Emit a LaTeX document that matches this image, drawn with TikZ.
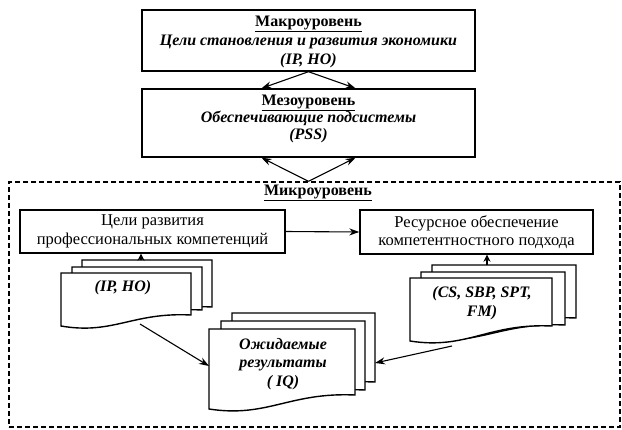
\documentclass[tikz,border=0pt]{standalone}
\usepackage{fontspec}
\setmainfont{Liberation Serif}
\usetikzlibrary{arrows.meta,calc}
\newcommand\docsheet[5]{%
  \draw[sheet] (#1,#2) -- (#3,#2) -- (#3,#5)
    .. controls ({#3-0.45*(#3-#1)},{#5-3}) and ({#1+0.4*(#3-#1)},{#4+9}) .. (#1,#4) -- cycle;}
\begin{document}
\begin{tikzpicture}[x=1pt,y=-1pt,
  box/.style={draw,line width=1.4pt,fill=white,inner sep=2pt,align=center,font=\fontsize{16.5}{18.5}\selectfont},
  sheet/.style={draw,line width=1.4pt,fill=white},
  arr/.style={-{Stealth[length=10pt,width=7pt]},line width=1.1pt},
  sarr/.style={-{Stealth[length=7pt,width=7pt]},line width=1.1pt},
  txt/.style={align=center,font=\fontsize{16}{18.5}\selectfont}]
\useasboundingbox (0,0) rectangle (622,429);

% dashed frame of the micro level
\node[draw,dashed,line width=1.3pt,dash pattern=on 5pt off 3pt,minimum width=611pt,minimum height=245pt,inner sep=0pt] (micro) at (314.5,304.5) {};

% macro and meso levels
\node[box,minimum width=333pt,minimum height=61pt] (macro) at (308.5,40.5) {};
\node[txt,font=\fontsize{16}{19}\selectfont] (macroT) at (308.5,42)
  {\underline{\textbf{Макроуровень}}\\ \textbf{\textit{Цели становления и развития экономики}}\\ \textbf{\textit{(IP, HO)}}};
\node[box,minimum width=333pt,minimum height=68pt] (meso) at (308.5,123) {};
\node[txt,font=\fontsize{16}{17}\selectfont] (mesoT) at (308.5,118.5)
  {\underline{\textbf{Мезоуровень}}\\ \textbf{\textit{Обеспечивающие подсистемы}}\\ \textbf{\textit{(PSS)}}};

\draw[arr] (macro.south) -- ($(meso.north)+(-47,0)$);
\draw[arr] (macro.south) -- ($(meso.north)+(47,0)$);
\coordinate (apex) at (macro.south |- micro.north);
\draw[arr] (apex) -- ($(meso.south)+(-47,0)$);
\draw[arr] (apex) -- ($(meso.south)+(47,0)$);

\node[txt] (microlbl) at (318,193) {\underline{\textbf{Микроуровень}}};

% micro level boxes
\node[box,minimum width=265pt,minimum height=43pt] (goals) at (152.5,231.5)
  {Цели развития\\профессиональных компетенций};
\node[box,minimum width=233pt,minimum height=44pt] (res) at (476.5,232)
  {Ресурсное обеспечение\\компетентностного подхода};
\draw[arr] (goals.east) -- (res.west);

% documents (IP, HO)
\docsheet{82}{260}{212}{314}{307}
\docsheet{72}{267}{202}{319}{310}
\docsheet{61}{273}{191}{326}{315}
\node[txt] (ipT) at (123,288) {\textbf{\textit{(IP, HO)}}};

% documents (CS ...)
\docsheet{432}{265}{576}{332}{318}
\docsheet{421}{272}{565}{338}{325}
\docsheet{410}{278}{552}{341}{326}
\node[txt,font=\fontsize{16}{19.5}\selectfont] (resT) at (482,303) {\textbf{\textit{(CS, SBP, SPT,}}\\\textbf{\textit{FM)}}};

% documents (IQ)
\docsheet{232}{313}{375}{396}{382}
\docsheet{221}{321}{365}{402}{390}
\docsheet{209}{329}{355}{409}{395}
\node[txt] (iqT) at (283,364) {\textbf{\textit{Ожидаемые}}\\\textbf{\textit{результаты}}\\\textbf{\textit{( IQ)}}};

% connectors
\coordinate (ipTop) at (141,260);
\draw[sarr] (ipTop) -- (ipTop |- goals.south);
\coordinate (resTop) at (487,265);
\draw[sarr] (resTop) -- (resTop |- res.south);
\coordinate (ipBot) at (140,324);
\coordinate (iqL) at (209,366);
\draw[arr] (ipBot) -- (iqL);
\coordinate (resBot) at (452,346);
\coordinate (iqR) at (375,363);
\draw[arr] (resBot) -- (iqR);
\end{tikzpicture}
\end{document}
